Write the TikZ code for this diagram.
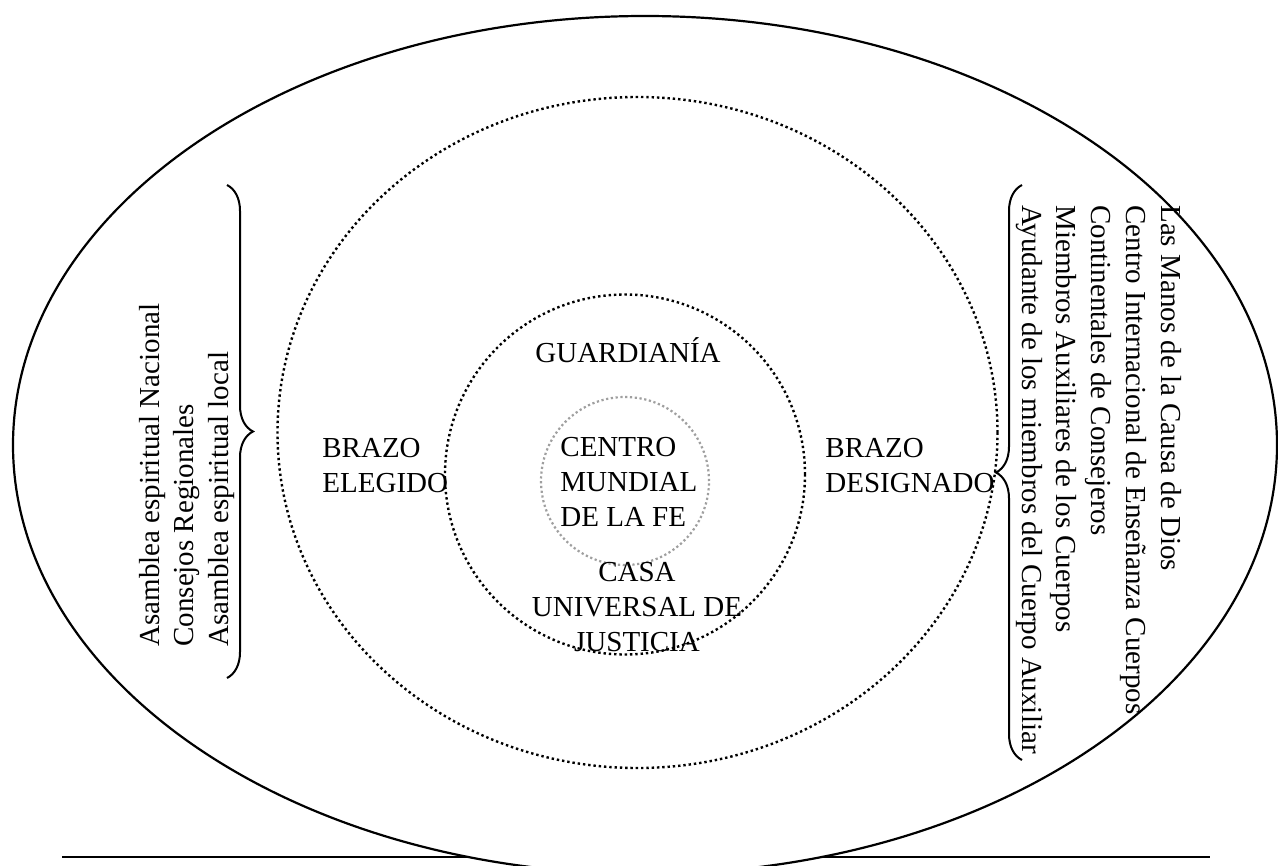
\documentclass[tikz,border=0pt]{standalone}
\usepackage{fontspec}
\setmainfont{Liberation Serif}
\usetikzlibrary{decorations.pathreplacing}
\begin{document}
\begin{tikzpicture}[x=0.5pt,y=-0.5pt,
  txt/.style={font=\fontsize{14.5}{17.4}\selectfont, inner sep=0pt, align=left},
  dotline/.style={line width=1.2pt, dash pattern=on 1.2pt off 1.45pt},
  graydots/.style={gray!75, line width=1.1pt, dash pattern=on 1.1pt off 1.3pt},
  bracestyle/.style={line width=1pt, decorate, decoration={brace, amplitude=13pt}},
  solidline/.style={line width=1.1pt}]
\useasboundingbox (0,0) rectangle (1278,866);
\clip (0,0) rectangle (1278,866);
\fill[white] (0,0) rectangle (1278,866);
% bottom rule
\coordinate (bl) at (62,857);
\coordinate (br) at (1210,857);
\draw[line width=1pt] (bl) -- (br);
% outer ellipse
\draw[solidline, fill=white] (645,445) ellipse [x radius=316pt, y radius=214.5pt];
% middle dotted ellipse
\draw[dotline] (637.5,432.5) ellipse [x radius=180pt, y radius=167.75pt];
% inner dotted circle
\draw[dotline] (625,474.5) circle [radius=90pt];
% gray centre circle
\draw[graydots] (625,481) circle [radius=42pt];
% texts (multi-line nodes: base anchor = last line)
\node[txt, anchor=base] (guard) at (628,362) {GUARDIANÍA};
\node[txt, anchor=base west] (centro) at (560,526) {CENTRO\\MUNDIAL\\DE LA FE};
\node[txt, align=center, anchor=base] (casa) at (637,651) {CASA\\UNIVERSAL DE\\JUSTICIA};
\node[txt, anchor=base west] (elegido) at (322,492) {BRAZO\\ELEGIDO};
\node[txt, anchor=base west] (designado) at (825,492) {BRAZO\\DESIGNADO};
\node[txt, rotate=90, anchor=base west] (leftlist) at (228.6,647)
  {Asamblea espiritual Nacional\\Consejos Regionales\\Asamblea espiritual local};
\node[txt, rotate=-90, anchor=base west] (rightlist) at (1022,205)
  {Las Manos de la Causa de Dios\\Centro Internacional de Enseñanza Cuerpos\\Continentales de Consejeros\\Miembros Auxiliares de los Cuerpos\\Ayudante de los miembros del Cuerpo Auxiliar};
% braces
\coordinate (lbtop) at (227,185);
\coordinate (lbbot) at (227,678);
\draw[bracestyle] (lbtop) -- (lbbot);
\coordinate (rbtop) at (1022,185);
\coordinate (rbbot) at (1022,760);
\draw[bracestyle] (rbbot) -- (rbtop);
\end{tikzpicture}
\end{document}
